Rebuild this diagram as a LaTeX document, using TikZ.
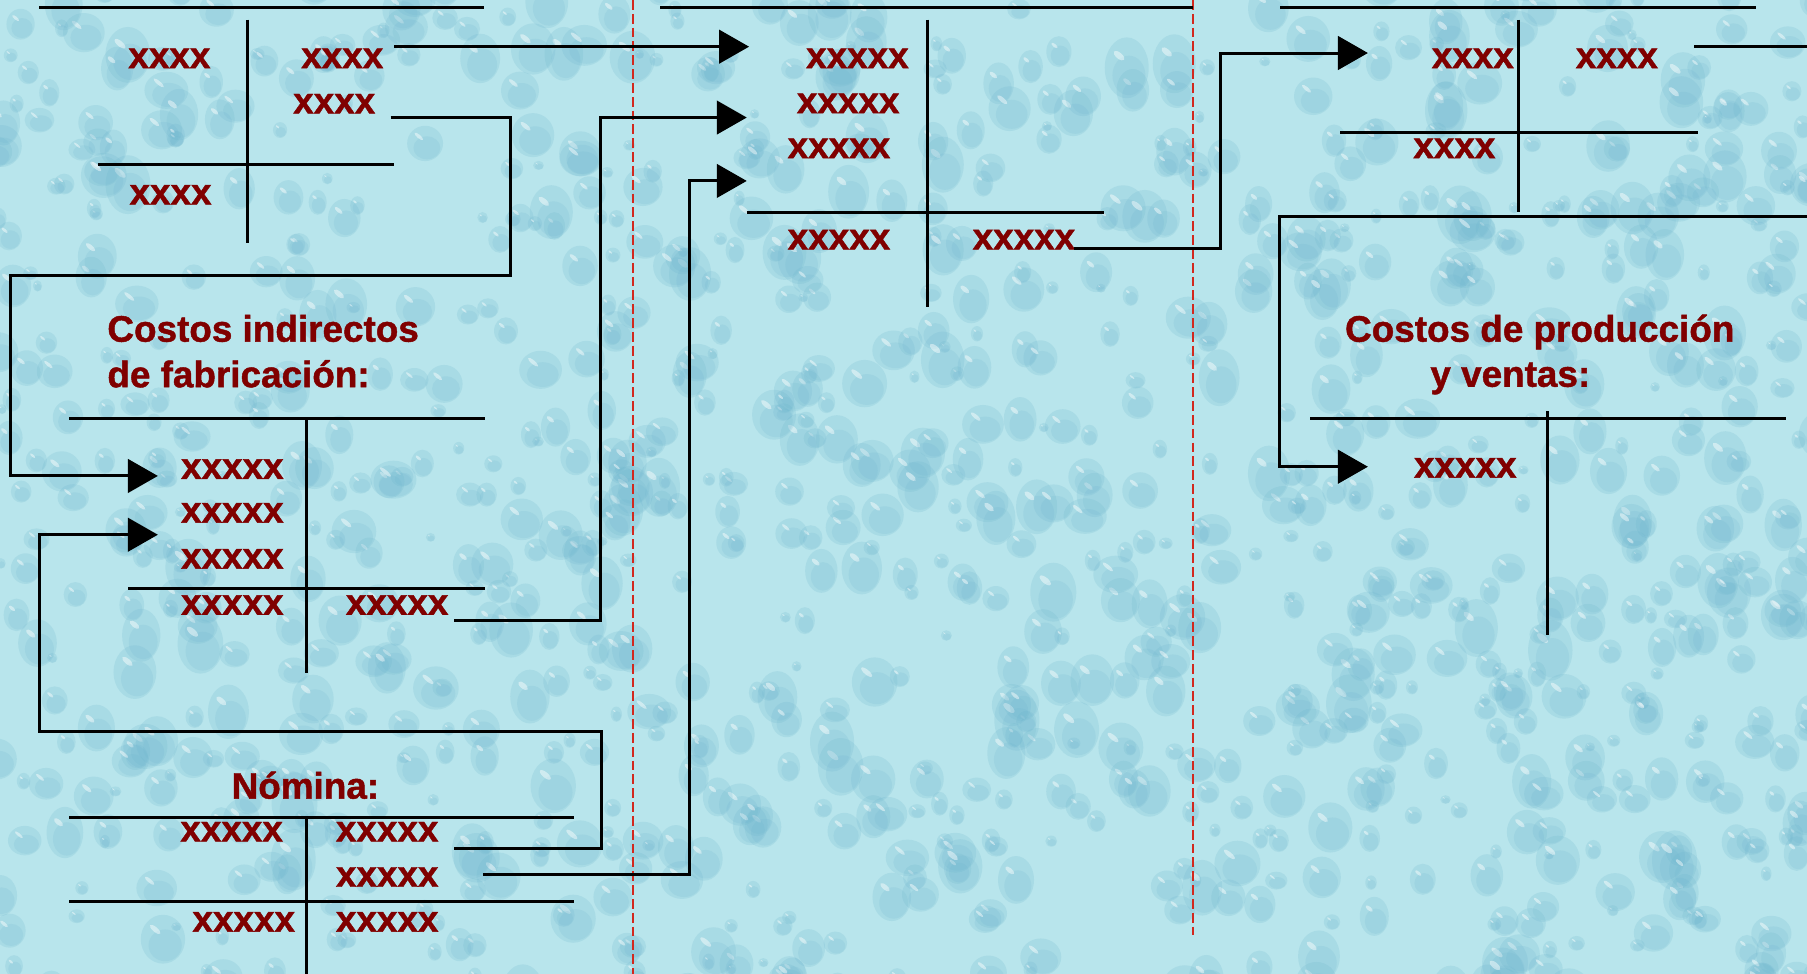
\documentclass[tikz,border=0pt]{standalone}
\usepackage{fontspec}
\setmainfont{Liberation Sans}
\newfontfamily\acfont{Liberation Sans}[UprightFont=*-Bold, FakeBold=1.2]
\usetikzlibrary{arrows.meta}
\definecolor{bgc}{RGB}{184,229,236}
\definecolor{dropc}{RGB}{108,180,205}
\definecolor{acct}{RGB}{128,0,0}
\definecolor{guidec}{RGB}{210,40,30}
\tikzset{
  amt/.style={font=\acfont\fontsize{32}{38}\selectfont, text=acct, inner sep=0pt},
  ttl/.style={amt, anchor=base west},
  tline/.style={line width=2.6pt, black},
  conn/.style={line width=2.6pt, black},
  arr/.style={conn, -{Triangle[length=26pt,width=29pt]}},
  guide/.style={guidec, line width=1.5pt, dash pattern=on 8.5pt off 3.5pt}
}
\begin{document}
\begin{tikzpicture}[x=1pt,y=-1pt]
\useasboundingbox (0,0) rectangle (1568,845);
% background texture
\begin{scope}
\clip (0,0) rectangle (1568,845);
\fill[bgc] (0,0) rectangle (1568,845);
\pgfmathsetseed{4711}
\foreach \i in {1,...,1100}{
  \pgfmathsetmacro\px{rnd*1600-16}
  \pgfmathsetmacro\py{rnd*880-16}
  \pgfmathsetmacro\rx{4+rnd*16}
  \pgfmathsetmacro\ry{\rx*(0.8+rnd*0.6)}
  \fill[dropc, opacity=0.20] (\px,\py) ellipse [x radius=\rx, y radius=\ry];
  \fill[dropc, opacity=0.16] (\px+0.1*\rx,\py+0.25*\ry) ellipse [x radius=0.75*\rx, y radius=0.65*\ry];
  \fill[white, opacity=0.45, rotate around={-40:(\px-0.35*\rx,\py-0.4*\ry)}] (\px-0.35*\rx,\py-0.4*\ry) ellipse [x radius=0.3*\rx, y radius=0.1*\ry];
}
\end{scope}
% guide lines
\coordinate (g1t) at (549,0); \coordinate (g1b) at (549,845);
\coordinate (g2t) at (1035,0); \coordinate (g2b) at (1035,811);
\draw[guide] (g1t) -- (g1b);
\draw[guide] (g2t) -- (g2b);
% account 1 (top left)
\draw[tline] (34,6.5) -- (420,6.5);
\draw[tline] (215,17) -- (215,211);
\draw[tline] (85,142.5) -- (342,142.5);
\node[amt] (a1l) at (147,50.6) {xxxx};
\node[amt] (a1r) at (297,50.6) {xxxx};
\node[amt] (a1r2) at (290,90) {xxxx};
\node[amt] (a1b) at (148,169) {xxxx};
% middle account
\draw[tline] (573,6.5) -- (1035,6.5);
\draw[tline] (805,17) -- (805,266);
\draw[tline] (648,184.6) -- (958,184.6);
\node[amt] (m1) at (744,50.6) {xxxxx};
\node[amt] (m2) at (736,89.7) {xxxxx};
\node[amt] (m3) at (728,128.7) {xxxxx};
\node[amt] (m4) at (728,208) {xxxxx};
\node[amt] (m5) at (888.5,208) {xxxxx};
% top right account
\draw[tline] (1111,6.5) -- (1524,6.5);
\draw[tline] (1318,17) -- (1318,184);
\draw[tline] (1163,115) -- (1473,115);
\node[amt] (r1) at (1278,50.6) {xxxx};
\node[amt] (r2) at (1403,50.6) {xxxx};
\node[amt] (r3) at (1262,128.7) {xxxx};
% costos indirectos de fabricacion
\node[ttl] (cif1) at (93,296.5) {Costos indirectos};
\node[ttl] (cif2) at (93,336) {de fabricación:};
\draw[tline] (60,363) -- (421,363);
\draw[tline] (266,363) -- (266,584);
\draw[tline] (111.5,511) -- (421,511);
\node[amt] (c1) at (201.6,407) {xxxxx};
\node[amt] (c2) at (201.6,445) {xxxxx};
\node[amt] (c3) at (201.6,485) {xxxxx};
\node[amt] (c4) at (201.6,525) {xxxxx};
\node[amt] (c5) at (344.6,525) {xxxxx};
% nomina
\node[amt, anchor=base] (nom) at (265,693) {Nómina:};
\draw[tline] (60,709) -- (498,709);
\draw[tline] (266,709) -- (266,845);
\draw[tline] (60,782.4) -- (498,782.4);
\node[amt] (n1) at (201,721.7) {xxxxx};
\node[amt] (n2) at (336,721.7) {xxxxx};
\node[amt] (n3) at (336,761) {xxxxx};
\node[amt] (n4) at (211.5,800) {xxxxx};
\node[amt] (n5) at (336,800) {xxxxx};
% costos de produccion y ventas
\node[ttl] (cpv1) at (1167,296.5) {Costos de producción};
\node[ttl] (cpv2) at (1241,335.6) {y ventas:};
\draw[tline] (1137,363) -- (1549.5,363);
\draw[tline] (1343,357) -- (1343,551);
\node[amt] (p1) at (1271.5,406) {xxxxx};
% connectors
\coordinate (s1) at (342,40.5); \coordinate (e1) at (650,40.5);
\draw[arr] (s1) -- (e1);
\coordinate (s2) at (339,102); \coordinate (e2) at (137,413);
\draw[arr] (s2) -- (443,102) -- (443,239) -- (9,239) |- (e2);
\coordinate (s3) at (394,538); \coordinate (e3) at (648,102);
\draw[arr] (s3) -- (521.5,538) |- (e3);
\coordinate (s4) at (394,736); \coordinate (e4) at (137,464);
\draw[arr] (s4) -- (522,736) -- (522,635) -- (34,635) |- (e4);
\coordinate (s5) at (419,759); \coordinate (e5) at (648,157);
\draw[arr] (s5) -- (598,759) |- (e5);
\coordinate (s6) at (932,215.5); \coordinate (e6) at (1187,46);
\draw[arr] (s6) -- (1059,215.5) |- (e6);
\coordinate (s7) at (1470,40.5); \coordinate (o7) at (1568,40.5);
\draw[conn] (s7) -- (o7);
\coordinate (o8) at (1568,188); \coordinate (e8) at (1187,405);
\draw[arr] (o8) -- (1110,188) |- (e8);
\end{tikzpicture}
\end{document}
